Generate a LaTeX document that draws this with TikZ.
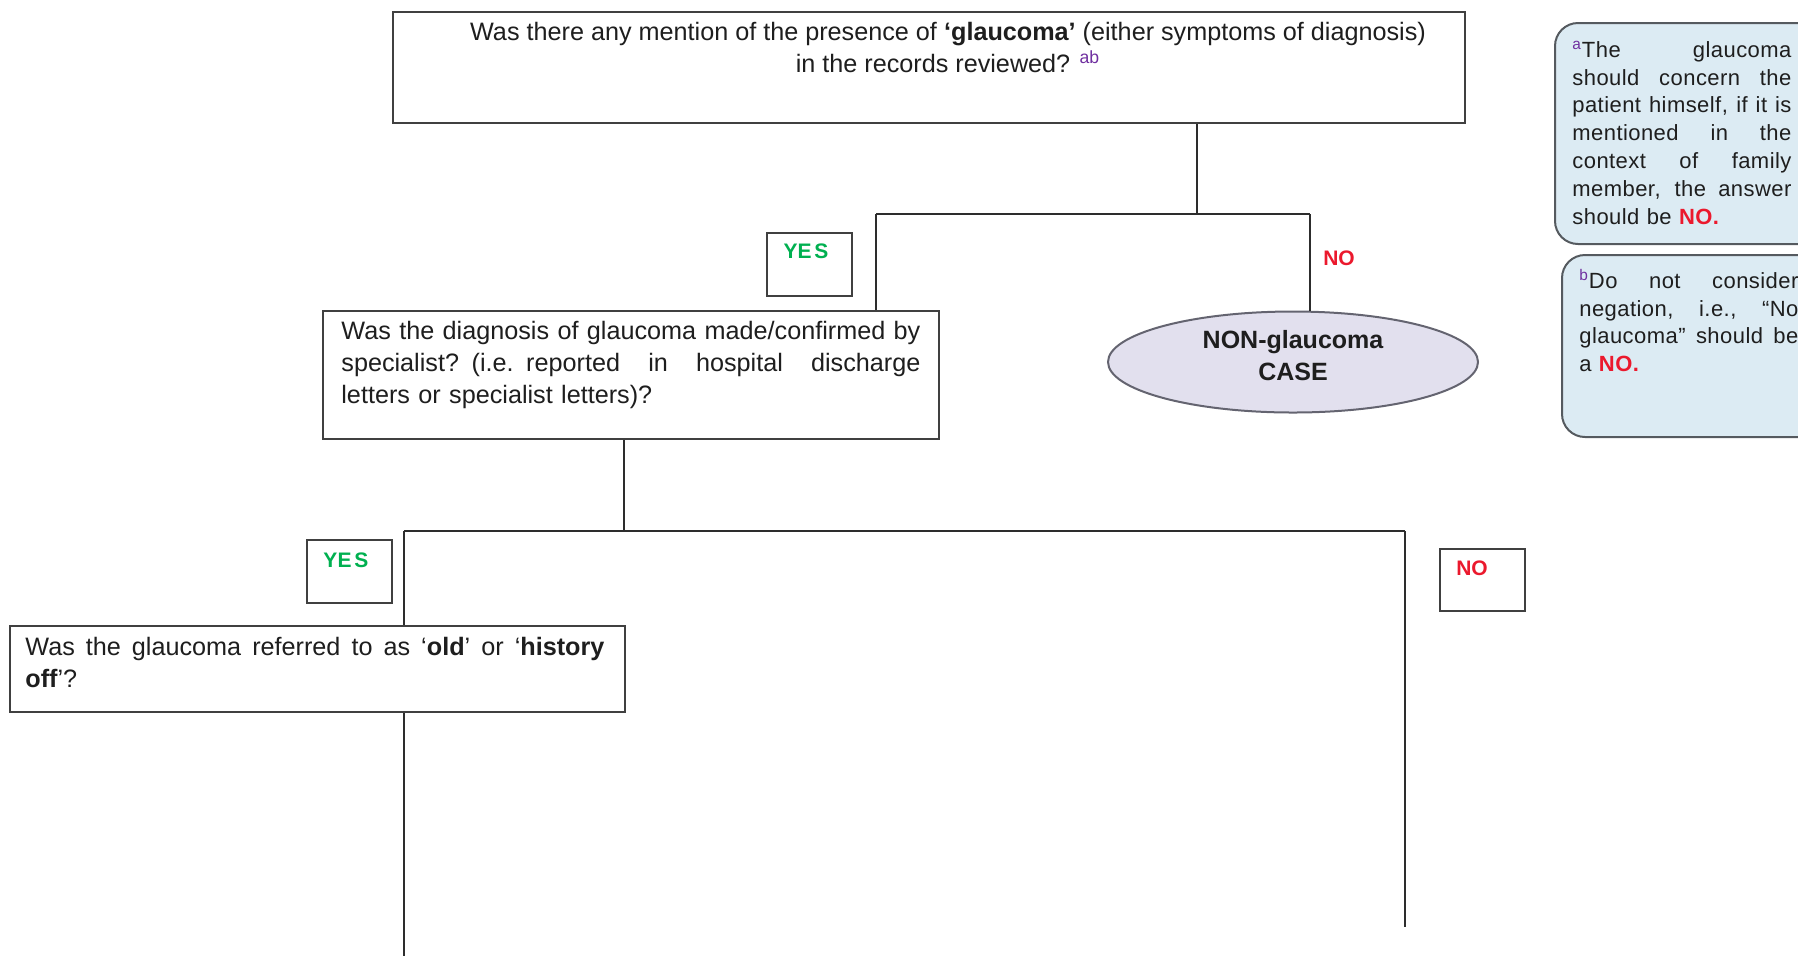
\documentclass[tikz,border=0pt]{standalone}
\usepackage{fontspec}
\setmainfont{Liberation Sans}
\newfontfamily\notefont[LetterSpace=2]{Liberation Sans}
\usetikzlibrary{shapes.geometric}

\definecolor{ink}{RGB}{30,30,30}
\definecolor{frame}{RGB}{64,64,64}
\definecolor{wire}{RGB}{45,45,45}
\definecolor{notefill}{RGB}{220,235,243}
\definecolor{noteframe}{RGB}{85,90,95}
\definecolor{ovalfill}{RGB}{226,224,238}
\definecolor{ovalframe}{RGB}{100,100,112}
\definecolor{yesgreen}{RGB}{0,176,80}
\definecolor{nored}{RGB}{235,25,45}
\definecolor{supviolet}{RGB}{112,48,160}

% justified rows of fixed-width paragraphs (question boxes and side notes)
\newcommand\qrow[1]{\leavevmode\hbox to 289.5pt{\spaceskip=0.28em plus 1fil\relax #1}}
\newcommand\nrow[1]{\leavevmode\hbox to 109.5pt{\spaceskip=0.25em plus 1fil\relax #1}}
\newcommand\fnmark[1]{\textsuperscript{\color{supviolet}#1}}

\tikzset{
  qbox/.style={draw=frame, line width=1pt, rectangle, anchor=north west,
    inner sep=0pt, fill=white},
  tagbox/.style={draw=frame, line width=1pt, rectangle, anchor=north west,
    inner sep=0pt, minimum width=42.5pt, minimum height=31.5pt},
  qtext/.style={anchor=north west, inner sep=0pt, text=ink,
    font=\fontsize{12.6}{16}\selectfont},
  notebox/.style={draw=noteframe, line width=1pt, fill=notefill,
    rounded corners=11.5pt},
  notetext/.style={anchor=north west, inner sep=0pt, text=ink,
    text width=109.5pt, align=left, font=\notefont\fontsize{11}{13.9}\selectfont},
  yeslabel/.style={anchor=base, inner sep=0pt, text=yesgreen,
    font=\fontsize{10.5}{12}\selectfont\bfseries},
  nolabel/.style={anchor=base, inner sep=0pt, text=nored,
    font=\fontsize{10.5}{12}\selectfont\bfseries},
  wireline/.style={draw=wire, line width=0.8pt},
}

\begin{document}
\begin{tikzpicture}[x=0.5pt, y=-0.5pt]
\useasboundingbox (0,0) rectangle (1798,955);
\clip (0,0) rectangle (1798,955);

% side notes (run past the right edge)
\draw[notebox] (1555,23) rectangle (1830,244);
\draw[notebox] (1562,255) rectangle (1830,437);
\node[notetext] (notea) at (1572,37.5) {%
  \nrow{\strut\fnmark{a}The glaucoma}\\
  \nrow{should concern the}\\
  \nrow{patient himself, if it is}\\
  \nrow{mentioned in the}\\
  \nrow{context of family}\\
  \nrow{member, the answer}\\
  should be {\color{nored}\bfseries NO.}};
\node[notetext] (noteb) at (1579,268.5) {%
  \nrow{\strut\fnmark{b}Do not consider}\\
  \nrow{negation, i.e., “No}\\
  \nrow{glaucoma” should be}\\
  a {\color{nored}\bfseries NO.}};

% question boxes
\node[qbox, minimum width=536pt, minimum height=55.5pt] (q1) at (392,11) {};
\node[qtext, anchor=north, align=center] (q1t) at (948,17.6) {%
  \strut Was there any mention of the presence of \textbf{‘glaucoma’} (either symptoms of diagnosis)\\
  in the records reviewed? \fnmark{ab}};

\node[qbox, minimum width=308pt, minimum height=64pt] (q2) at (322,310) {};
\node[qtext, text width=289.5pt, align=left] (q2t) at (341,316.6) {%
  \qrow{\strut Was the diagnosis of glaucoma made/confirmed by}\\
  \qrow{specialist? (i.e. reported in hospital discharge}\\
  letters or specialist letters)?};

\node[qbox, minimum width=307.5pt, minimum height=43pt] (q3) at (9,625) {};
\node[qtext, text width=289.5pt, align=left] (q3t) at (25,632.6) {%
  \qrow{\strut Was the glaucoma referred to as ‘\textbf{old}’ or ‘\textbf{history}}\\
  \textbf{off}’?};

% outcome
\node[ellipse, draw=ovalframe, line width=1pt, fill=ovalfill,
  minimum width=185pt, minimum height=50.5pt, inner sep=0pt] (nonc) at (1293,362) {};
\node[align=center, inner sep=0pt, text=ink,
  font=\fontsize{12.5}{16}\selectfont\bfseries] (nonct) at (1293,356)
  {NON-glaucoma\\CASE};

% answer tags
\node[tagbox] (yes1box) at (766,232) {};
\node[yeslabel] (yes1) at (806,258) {YE\kern1.5pt S};
\node[tagbox] (yes2box) at (306,539) {};
\node[yeslabel] (yes2) at (346,567) {YE\kern1.5pt S};
\node[tagbox, minimum height=31pt] (no2box) at (1439,548) {};
\node[nolabel] (no2) at (1472,575) {NO};
\node[nolabel] (no1) at (1339,265) {NO};

% connectors, first split
\coordinate (s1) at (1197,214);
\coordinate (s1l) at (876,214);
\coordinate (s1r) at (1310,214);
\draw[wireline] (q1.south -| s1) -- (s1);
\draw[wireline] (s1l) -- (s1r);
\draw[wireline] (s1l) -- (q2.north -| s1l);
\draw[wireline] (s1r) -- (nonc.north -| s1r);

% connectors, second split
\coordinate (s2) at (624,531);
\coordinate (s2l) at (404,531);
\coordinate (s2r) at (1405,531);
\coordinate (s2rend) at (1405,927);
\coordinate (s3end) at (404,960);
\draw[wireline] (q2.south -| s2) -- (s2);
\draw[wireline] (s2l) -- (s2r);
\draw[wireline] (s2l) -- (q3.north -| s2l);
\draw[wireline] (s2r) -- (s2rend);
\draw[wireline] (q3.south -| s2l) -- (s3end);
\end{tikzpicture}
\end{document}
